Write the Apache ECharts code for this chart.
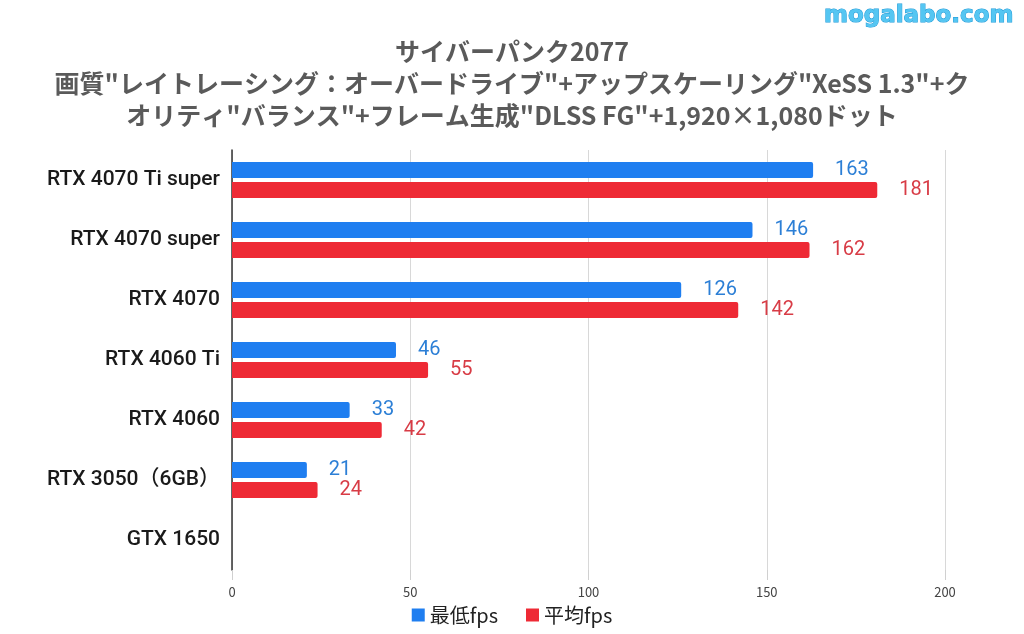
<!DOCTYPE html>
<html><head><meta charset="utf-8">
<script src="https://cdn.jsdelivr.net/npm/echarts@6/dist/echarts.min.js"></script>
<style>html,body{margin:0;padding:0;background:#fff}#c{width:1024px;height:634px}</style>
</head><body><div id="c"></div>
<script>
const categories = ["RTX 4070 Ti super","RTX 4070 super","RTX 4070","RTX 4060 Ti","RTX 4060","RTX 3050（6GB）","GTX 1650"];
const minFps = [163,146,126,46,33,21,null];
const avgFps = [181,162,142,55,42,24,null];
const xTicks = {min:0, max:200, interval:50};
const titleLines = ["サイバーパンク2077","画質\"レイトレーシング：オーバードライブ\"+アップスケーリング\"XeSS 1.3\"+ク","オリティ\"バランス\"+フレーム生成\"DLSS FG\"+1,920×1,080ドット"];
const seriesNames = ["最低fps","平均fps"];

const chart = echarts.init(document.getElementById('c'));
const ff = '"Noto Sans CJK JP","Noto Sans",sans-serif';
chart.setOption({
  animation:false,
  textStyle:{fontFamily:ff},
  title:{text:titleLines.join('\n'), left:'center', top:30,
    textStyle:{fontSize:25, fontWeight:'bold', color:'#5a5a5a', lineHeight:32, fontFamily:ff}},
  graphic:[{type:'text', right:10, top:4, style:{text:'mogalabo.com', font:'bold 23px "DejaVu Sans"', fill:'#55c6f2', stroke:'#1f9ad8', lineWidth:1}}],
  legend:{bottom:4, left:'center', itemWidth:13, itemHeight:13, itemGap:28, icon:'rect',
    textStyle:{fontSize:20, color:'#222'}, data:seriesNames},
  grid:{left:232, right:79, top:150, bottom:64, containLabel:false},
  xAxis:{type:'value', min:xTicks.min, max:xTicks.max, interval:xTicks.interval,
    axisLine:{show:false},
    axisTick:{show:true, length:10, lineStyle:{color:'#d0d0d0'}},
    axisLabel:{fontSize:13, color:'#444', margin:16},
    splitLine:{lineStyle:{color:'#d8d8d8'}}},
  yAxis:{type:'category', data:categories, inverse:true,
    axisLine:{lineStyle:{color:'#333', width:1.5}},
    axisTick:{show:false},
    axisLabel:{fontSize:21, fontWeight:500, color:'#1a1a1a', margin:12, padding:[9,0,0,0], fontFamily:'Roboto,"Noto Sans CJK JP",sans-serif'}},
  series:[
    {name:seriesNames[0], type:'bar', data:minFps, barWidth:16, barGap:'25%',
      itemStyle:{color:'#1f7ef0', borderRadius:[0,2,2,0]},
      label:{show:true, position:'right', distance:22, fontSize:20, color:'#2c7fd6', fontFamily:'Roboto'}},
    {name:seriesNames[1], type:'bar', data:avgFps, barWidth:16,
      itemStyle:{color:'#ee2a35', borderRadius:[0,2,2,0]},
      label:{show:true, position:'right', distance:22, fontSize:20, color:'#d83c46', fontFamily:'Roboto'}}
  ]
});
</script></body></html>
